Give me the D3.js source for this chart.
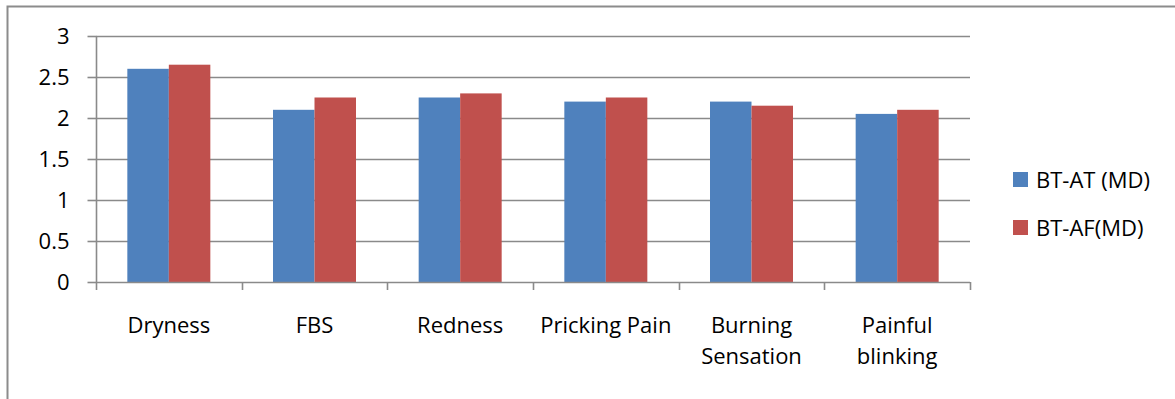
<!DOCTYPE html>
<html><head><meta charset="utf-8">
<script src="https://cdn.jsdelivr.net/npm/d3@7"></script>
<style>html,body{margin:0;padding:0;background:#fff;}svg{display:block;}</style>
</head><body>
<script>
const categories = ["Dryness", "FBS", "Redness", "Pricking Pain", "Burning Sensation", "Painful blinking"];
const categoryLines = [["Dryness"], ["FBS"], ["Redness"], ["Pricking Pain"], ["Burning", "Sensation"], ["Painful", "blinking"]];
const seriesNames = ["BT-AT (MD)", "BT-AF(MD)"];
const btAT = [2.6, 2.1, 2.25, 2.2, 2.2, 2.05];
const btAF = [2.65, 2.25, 2.3, 2.25, 2.15, 2.1];
const yTicks = [0, 0.5, 1, 1.5, 2, 2.5, 3];
const colors = ["#4F81BD", "#C0504D"];

const W = 1175, H = 399;
const plot = {left: 96, right: 970, top: 36, bottom: 282};
const font = "'Open Sans', sans-serif";
const gridColor = "#8a8a8a";

const svg = d3.select("body").append("svg").attr("width", W).attr("height", H);

// outer chart border (right/bottom beyond view)
svg.append("rect").attr("x", 7.5).attr("y", 6.5).attr("width", W + 20).attr("height", H + 20)
  .attr("fill", "none").attr("stroke", "#8c8c8c").attr("stroke-width", 2);

const y = d3.scaleLinear().domain([0, 3]).range([plot.bottom, plot.top]);
const x0 = d3.scaleBand().domain(categories).range([plot.left, plot.right]).padding(0);
const x1 = d3.scaleBand().domain(seriesNames).range([0, x0.bandwidth()]).paddingInner(0).paddingOuter(0.755);

// gridlines
svg.append("g").selectAll("line").data(yTicks.filter(t => t > 0)).join("line")
  .attr("x1", plot.left).attr("x2", plot.right)
  .attr("y1", d => Math.round(y(d)) + 0.5).attr("y2", d => Math.round(y(d)) + 0.5)
  .attr("stroke", gridColor).attr("stroke-width", 1.6);

// bars
const data = categories.map((c, i) => ({cat: c, vals: [btAT[i], btAF[i]]}));
const groups = svg.append("g").selectAll("g").data(data).join("g")
  .attr("transform", d => `translate(${x0(d.cat)},0)`);
groups.selectAll("rect").data(d => d.vals.map((v, j) => ({name: seriesNames[j], v, j}))).join("rect")
  .attr("x", d => x1(d.name)).attr("width", x1.bandwidth())
  .attr("y", d => y(d.v)).attr("height", d => y(0) - y(d.v))
  .attr("fill", d => colors[d.j]);

// y axis
const yAxis = d3.axisLeft(y).tickValues(yTicks).tickSize(9).tickPadding(18).tickFormat(d3.format("~g"));
const gy = svg.append("g").attr("transform", `translate(${plot.left + 0.5},0)`).call(yAxis);
gy.select(".domain").attr("stroke", gridColor).attr("stroke-width", 1.6).attr("d", `M0,${plot.top}V${plot.bottom}`);
gy.selectAll(".tick line").attr("stroke", gridColor).attr("stroke-width", 1.6);
gy.selectAll(".tick text").attr("font-family", font).attr("font-size", 22).attr("fill", "#000");

// x axis baseline and ticks at category boundaries
const gx = svg.append("g");
gx.append("line").attr("x1", plot.left).attr("x2", plot.right)
  .attr("y1", y(0) + 0.5).attr("y2", y(0) + 0.5).attr("stroke", gridColor).attr("stroke-width", 1.6);
const boundaries = categories.map(c => x0(c)).concat([plot.right]);
gx.selectAll("line.tk").data(boundaries).join("line").attr("class", "tk")
  .attr("x1", d => Math.round(d) + 0.5).attr("x2", d => Math.round(d) + 0.5)
  .attr("y1", y(0)).attr("y2", y(0) + 8).attr("stroke", gridColor).attr("stroke-width", 1.6);

// category labels
categories.forEach((c, i) => {
  const cx = x0(c) + x0.bandwidth() / 2;
  const t = svg.append("text").attr("x", cx).attr("y", 333).attr("text-anchor", "middle")
    .attr("font-family", font).attr("font-size", 22).attr("fill", "#000");
  categoryLines[i].forEach((ln, k) => {
    t.append("tspan").attr("x", cx).attr("dy", k === 0 ? 0 : 31).text(ln);
  });
});

// legend
const leg = svg.append("g");
const legY = [172, 220];
seriesNames.forEach((s, i) => {
  leg.append("rect").attr("x", 1013).attr("y", legY[i]).attr("width", 15).attr("height", 15).attr("fill", colors[i]);
  leg.append("text").attr("x", 1036).attr("y", legY[i] + 15.5).attr("font-family", font).attr("font-size", 22)
    .attr("fill", "#000").text(s);
});
</script>
</body></html>
